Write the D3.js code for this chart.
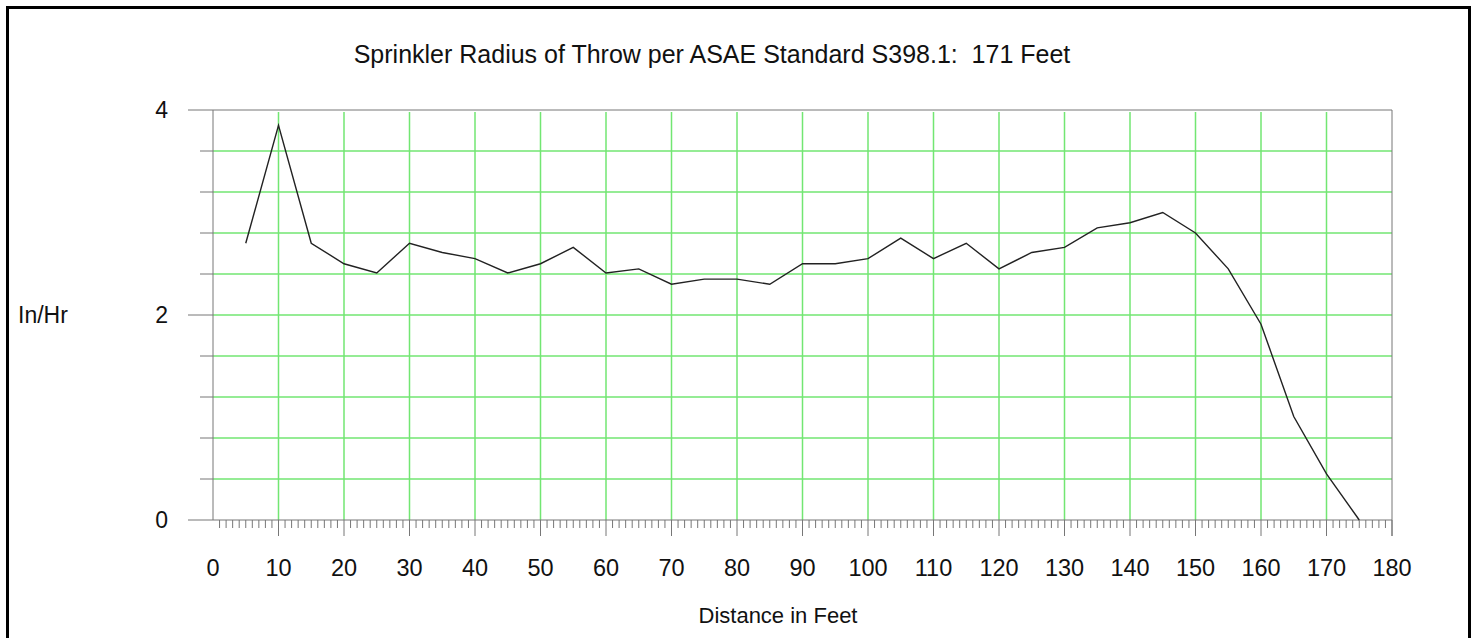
<!DOCTYPE html>
<html>
<head>
<meta charset="utf-8">
<script src="https://cdn.jsdelivr.net/npm/d3@7"></script>
<style>
  body { margin: 0; background: #fff; }
  svg text { font-family: "Liberation Sans", Arial, sans-serif; fill: #111; }
</style>
</head>
<body>
<div id="chart"></div>
<script>
var width = 1475;
var height = 638;

// distance from sprinkler (feet) and measured rate (in/hr)
var distances = [5, 10, 15, 20, 25, 30, 35, 40, 45, 50, 55, 60, 65, 70, 75, 80, 85, 90,
  95, 100, 105, 110, 115, 120, 125, 130, 135, 140, 145, 150, 155, 160, 165, 170, 175];
var rates = [2.7, 3.85, 2.7, 2.5, 2.41, 2.7, 2.61, 2.55, 2.41, 2.5, 2.66, 2.41, 2.45, 2.3, 2.35, 2.35, 2.3, 2.5,
  2.5, 2.55, 2.75, 2.55, 2.7, 2.45, 2.61, 2.66, 2.85, 2.9, 3.0, 2.8, 2.45, 1.91, 1.01, 0.45, 0];
var xTicks = [0, 10, 20, 30, 40, 50, 60, 70, 80, 90, 100, 110, 120, 130, 140, 150, 160, 170, 180];
var yTicks = [0, 2, 4];

var plotLeft = 213, plotRight = 1392, plotTop = 110, plotBottom = 520;

var svg = d3.select("#chart")
  .append("svg")
  .attr("width", width)
  .attr("height", height);

// outer frame
svg.append("rect")
  .attr("x", 7.5)
  .attr("y", 7.5)
  .attr("width", 1462)
  .attr("height", 700)
  .attr("fill", "none")
  .attr("stroke", "#000")
  .attr("stroke-width", 3);

var xScale = d3.scaleLinear().domain([0, 180]).range([plotLeft, plotRight]);
var yScale = d3.scaleLinear().domain([0, 4]).range([plotBottom, plotTop]);

// green grid
var grid = svg.append("g").attr("stroke", "#72e672").attr("stroke-width", 1.5);
grid.selectAll("line.h")
  .data(d3.range(1, 10).map(function(i) { return i * 0.4; }))
  .enter().append("line")
  .attr("x1", plotLeft).attr("x2", plotRight)
  .attr("y1", function(d) { return yScale(d); })
  .attr("y2", function(d) { return yScale(d); });
grid.selectAll("line.v")
  .data(d3.range(10, 180, 10))
  .enter().append("line")
  .attr("x1", function(d) { return xScale(d); })
  .attr("x2", function(d) { return xScale(d); })
  .attr("y1", plotTop + 2).attr("y2", plotBottom);

// minor x ticks every foot
var ax = svg.append("g").attr("stroke", "#777").attr("stroke-width", 1);
ax.selectAll("line.minor")
  .data(d3.range(1, 180).filter(function(d) { return d % 10 != 0; }))
  .enter().append("line")
  .attr("x1", function(d) { return xScale(d); })
  .attr("x2", function(d) { return xScale(d); })
  .attr("y1", plotBottom).attr("y2", plotBottom + 8);
ax.selectAll("line.major")
  .data(d3.range(10, 190, 10))
  .enter().append("line")
  .attr("x1", function(d) { return xScale(d); })
  .attr("x2", function(d) { return xScale(d); })
  .attr("y1", plotBottom).attr("y2", plotBottom + 16);

// y ticks
ax.selectAll("line.ytick")
  .data(d3.range(0, 11).map(function(i) { return i * 0.4; }))
  .enter().append("line")
  .attr("x1", function(d, i) { return i % 5 == 0 ? plotLeft - 25 : plotLeft - 13; })
  .attr("x2", plotLeft)
  .attr("y1", function(d) { return yScale(d); })
  .attr("y2", function(d) { return yScale(d); });

// plot frame lines
ax.append("line").attr("x1", plotLeft).attr("x2", plotLeft).attr("y1", plotTop).attr("y2", plotBottom);
ax.append("line").attr("x1", plotRight).attr("x2", plotRight).attr("y1", plotTop).attr("y2", plotBottom + 16);
ax.append("line").attr("x1", plotLeft).attr("x2", plotRight).attr("y1", plotTop).attr("y2", plotTop);
ax.append("line").attr("x1", plotLeft).attr("x2", plotRight).attr("y1", plotBottom).attr("y2", plotBottom);

// tick labels
svg.selectAll("text.xlab")
  .data(xTicks)
  .enter().append("text")
  .attr("x", function(d) { return xScale(d); })
  .attr("y", 576)
  .attr("text-anchor", "middle")
  .style("font-size", "23.5px")
  .text(function(d) { return d; });

svg.selectAll("text.ylab")
  .data(yTicks)
  .enter().append("text")
  .attr("x", 168)
  .attr("y", function(d) { return yScale(d) + 8; })
  .attr("text-anchor", "end")
  .style("font-size", "23px")
  .text(function(d) { return d; });

// data line
var line = d3.line()
  .x(function(d, i) { return xScale(distances[i]); })
  .y(function(d) { return yScale(d); });

svg.append("path")
  .datum(rates)
  .attr("d", line)
  .attr("fill", "none")
  .attr("stroke", "#222")
  .attr("stroke-width", 1.4);

// titles
svg.append("text")
  .attr("x", 712)
  .attr("y", 63)
  .attr("text-anchor", "middle")
  .style("font-size", "25px")
  .style("white-space", "pre")
  .text("Sprinkler Radius of Throw per ASAE Standard S398.1:  171 Feet");

svg.append("text")
  .attr("x", 18)
  .attr("y", 323)
  .style("font-size", "23px")
  .text("In/Hr");

svg.append("text")
  .attr("x", 778)
  .attr("y", 623)
  .attr("text-anchor", "middle")
  .style("font-size", "22px")
  .text("Distance in Feet");
</script>
</body>
</html>
